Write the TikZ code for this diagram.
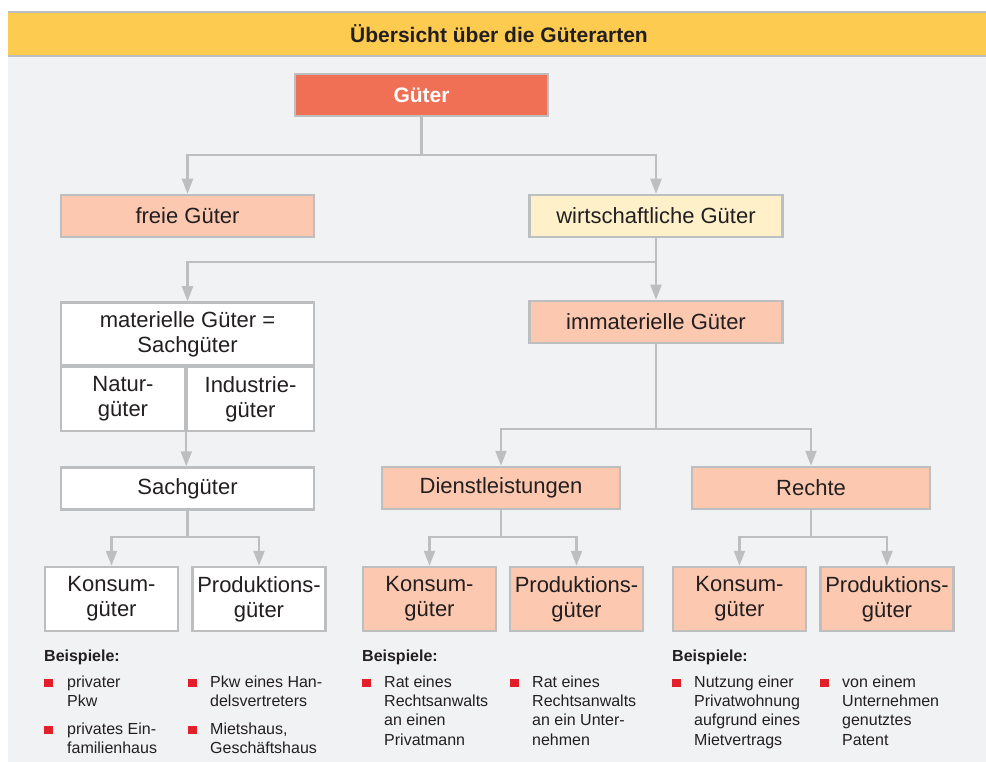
\documentclass[tikz,border=0pt]{standalone}
\usepackage{fontspec}
\setmainfont{Liberation Sans}
\usetikzlibrary{arrows.meta,positioning}
\definecolor{bar}{HTML}{FDCB4F}
\definecolor{panel}{HTML}{F1F2F4}
\definecolor{rim}{HTML}{BDBEC0}
\definecolor{guetred}{HTML}{F07055}
\definecolor{peach}{HTML}{FCC8B0}
\definecolor{cream}{HTML}{FEF1CA}
\definecolor{ink}{HTML}{231F20}
\definecolor{dotred}{HTML}{E3202A}
\begin{document}
\begin{tikzpicture}[
    x=1pt, y=-1pt,
    every node/.style={inner sep=0pt, text=ink},
    box/.style={draw=rim, line width=2.5pt, fill=white, align=center,
        minimum height=42pt, font=\fontsize{22}{25}\selectfont},
    wide/.style={box, minimum width=253pt},
    mid/.style={box, minimum width=238pt},
    small/.style={box, minimum width=133pt, minimum height=64pt},
    conn/.style={draw=rim, line width=2.2pt},
    arr/.style={conn, -{Triangle[length=15pt,width=11pt]}},
    bsp/.style={anchor=north west, align=left, font=\fontsize{16}{19.3}\selectfont},
    head/.style={anchor=base west, font=\bfseries\fontsize{16}{19.3}\selectfont},
    dot/.style={fill=dotred, minimum size=8.5pt}]
  \useasboundingbox (0,0) rectangle (986,762);
  \fill[panel] (8,57) rectangle (986,762);
  \fill[bar] (8,11) rectangle (986,57);
  \draw[rim, line width=2pt] (8,12) -- (986,12) (8,56) -- (986,56);
  \node[font=\bfseries\fontsize{21}{25}\selectfont] (title) at (499,34)
    {Übersicht über die Güterarten};

  \node[wide, fill=guetred, text=white, minimum height=42pt,
    font=\bfseries\fontsize{21}{25}\selectfont] (gueter) at (421.5,95) {Güter};
  \node[wide, fill=peach] (freie) at (187.5,216) {freie Güter};
  \node[wide, fill=cream] (wirt) at (656,216) {wirtschaftliche Güter};
  \node[wide, minimum height=63pt] (mat) at (187.5,334)
    {materielle Güter =\\Sachgüter};
  \node[box, minimum width=124pt, minimum height=64pt] (natur) at (123,399)
    {Natur-\\güter};
  \node[box, minimum width=127pt, minimum height=64pt] (indus) at (250.5,399)
    {Industrie-\\güter};
  \node[wide, fill=peach] (immat) at (656,322) {immaterielle Güter};
  \node[wide] (sach) at (187.5,488.5) {Sachgüter};
  \node[mid, fill=peach] (dienst) at (501,488) {Dienstleistungen};
  \node[mid, fill=peach] (rechte) at (811,488) {Rechte};

  \node[small] (kon1) at (111.5,599) {Konsum-\\güter};
  \node[small] (pro1) at (259,599) {Produktions-\\güter};
  \node[small, fill=peach] (kon2) at (429.5,599) {Konsum-\\güter};
  \node[small, fill=peach] (pro2) at (576.5,599) {Produktions-\\güter};
  \node[small, fill=peach] (kon3) at (739.5,599) {Konsum-\\güter};
  \node[small, fill=peach] (pro3) at (887,599) {Produktions-\\güter};

  \coordinate (j1) at (421.5,155);
  \coordinate (j2) at (656,262);
  \coordinate (j3) at (656,429);
  \coordinate (j4) at (187.5,537);
  \coordinate (j5) at (501,537);
  \coordinate (j6) at (811,537);
  \draw[conn] (gueter) -- (j1);
  \draw[arr] (j1) -| (freie);
  \draw[arr] (j1) -| (wirt);
  \draw[arr] (wirt) -- (immat);
  \draw[arr] (j2) -| (mat);
  \draw[arr] (natur.south east) -- (natur.south east |- sach.north);
  \draw[conn] (immat) -- (j3);
  \draw[arr] (j3) -| (dienst);
  \draw[arr] (j3) -| (rechte);
  \draw[conn] (sach) -- (j4);
  \draw[arr] (j4) -| (kon1);
  \draw[arr] (j4) -| (pro1);
  \draw[conn] (dienst) -- (j5);
  \draw[arr] (j5) -| (kon2);
  \draw[arr] (j5) -| (pro2);
  \draw[conn] (rechte) -- (j6);
  \draw[arr] (j6) -| (kon3);
  \draw[arr] (j6) -| (pro3);

  \node[head] (bsp1) at (44,661) {Beispiele:};
  \node[head] (bsp2) at (362,661) {Beispiele:};
  \node[head] (bsp3) at (672,661) {Beispiele:};

  \node[dot] (d1) at (48.5,683) {};
  \node[bsp] (t1) at (67,673.5) {\strut privater\\Pkw};
  \node[dot] (d2) at (48.5,730) {};
  \node[bsp] (t2) at (67,720.5) {\strut privates Ein-\\familienhaus};
  \node[dot] (d3) at (192.5,683) {};
  \node[bsp] (t3) at (210,673.5) {\strut Pkw eines Han-\\delsvertreters};
  \node[dot] (d4) at (192.5,730) {};
  \node[bsp] (t4) at (210,720.5) {\strut Mietshaus,\\Geschäftshaus};
  \node[dot] (d5) at (366.5,683) {};
  \node[bsp] (t5) at (384,673.5)
    {\strut Rat eines\\Rechtsanwalts\\an einen\\Privatmann};
  \node[dot] (d6) at (514.5,683) {};
  \node[bsp] (t6) at (532,673.5)
    {\strut Rat eines\\Rechtsanwalts\\an ein Unter-\\nehmen};
  \node[dot] (d7) at (676.5,683) {};
  \node[bsp] (t7) at (694,673.5)
    {\strut Nutzung einer\\Privatwohnung\\aufgrund eines\\Mietvertrags};
  \node[dot] (d8) at (824.5,683) {};
  \node[bsp] (t8) at (842,673.5)
    {\strut von einem\\Unternehmen\\genutztes\\Patent};
\end{tikzpicture}
\end{document}
